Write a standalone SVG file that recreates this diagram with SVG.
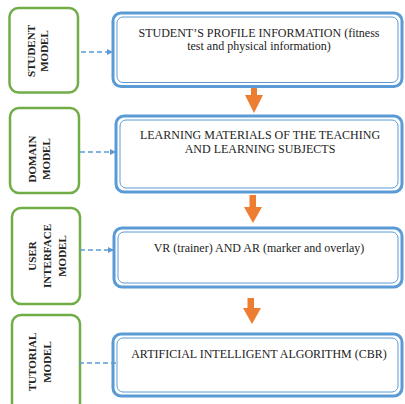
<svg xmlns="http://www.w3.org/2000/svg" width="405" height="404" viewBox="0 0 405 404">
<defs>
<style>
.g{fill:#fff;stroke:#70AD47;stroke-width:2.5}
.bo{fill:#fff;stroke:#5B9BD5;stroke-width:3}
.bi{fill:none;stroke:#5B9BD5;stroke-width:1}
.t{font-family:"Liberation Serif","Times New Roman",serif;font-size:12px;fill:#222;text-anchor:middle}
.l{font-family:"Liberation Serif","Times New Roman",serif;font-size:11px;font-weight:bold;fill:#222;text-anchor:middle}
.d{stroke:#5B9BD5;stroke-width:1.3;stroke-dasharray:5,3;fill:none}
.o{fill:#ED7D31}
</style>
<marker id="ah" markerWidth="6" markerHeight="6" refX="5" refY="3" orient="auto" markerUnits="userSpaceOnUse">
<path d="M0,0 L6,3 L0,6 Z" fill="#5B9BD5"/>
</marker>
</defs>
<rect width="405" height="404" fill="#fff"/>
<g id="student-model">
<rect class="g" x="9.5" y="8" width="68.5" height="84.5" rx="9"/>
<text class="l" transform="translate(35,51) rotate(-90)">STUDENT</text>
<text class="l" transform="translate(48,51) rotate(-90)">MODEL</text>
</g>
<g id="domain-model">
<rect class="g" x="10" y="108" width="69" height="85" rx="9"/>
<text class="l" transform="translate(36,159) rotate(-90)">DOMAIN</text>
<text class="l" transform="translate(50,159) rotate(-90)">MODEL</text>
</g>
<g id="user-interface-model">
<rect class="g" x="12" y="208" width="68" height="96" rx="9"/>
<text class="l" transform="translate(36,256) rotate(-90)">USER</text>
<text class="l" transform="translate(51,256) rotate(-90)">INTERFACE</text>
<text class="l" transform="translate(66,256) rotate(-90)">MODEL</text>
</g>
<g id="tutorial-model">
<rect class="g" x="12" y="315" width="68" height="100" rx="9"/>
<text class="l" transform="translate(36,362) rotate(-90)">TUTORIAL</text>
<text class="l" transform="translate(51,362) rotate(-90)">MODEL</text>
</g>
<g id="profile">
<rect class="bo" x="113" y="13" width="289" height="73.5" rx="8"/>
<rect class="bi" x="117" y="17" width="281" height="65.5" rx="6"/>
<text class="t" x="259" y="37">STUDENT’S PROFILE INFORMATION  (fitness</text>
<text class="t" x="259" y="50">test and physical information)</text>
</g>
<g id="materials">
<rect class="bo" x="116" y="116" width="286" height="76" rx="8"/>
<rect class="bi" x="120" y="120" width="278" height="68" rx="6"/>
<text class="t" x="260" y="139">LEARNING MATERIALS OF THE TEACHING</text>
<text class="t" x="260" y="153">AND LEARNING SUBJECTS</text>
</g>
<g id="vr-ar">
<rect class="bo" x="114" y="228" width="288" height="59" rx="8"/>
<rect class="bi" x="118" y="232" width="280" height="51" rx="6"/>
<text class="t" x="259" y="252">VR (trainer) AND AR (marker and overlay)</text>
</g>
<g id="ai">
<rect class="bo" x="113" y="334" width="289" height="62" rx="8"/>
<rect class="bi" x="117" y="338" width="281" height="54" rx="6"/>
<text class="t" x="259" y="358">ARTIFICIAL  INTELLIGENT  ALGORITHM  (CBR)</text>
</g>
<g id="connectors">
<line class="d" x1="81" y1="52" x2="112" y2="52" marker-end="url(#ah)"/>
<line class="d" x1="80" y1="152" x2="115" y2="152" marker-end="url(#ah)"/>
<line class="d" x1="80" y1="250" x2="113" y2="250" marker-end="url(#ah)"/>
<line class="d" x1="79" y1="363" x2="118" y2="363"/>
<path class="o" d="M251,88 H257 V95 H263 L254,113 L245,95 H251 Z"/>
<path class="o" d="M249.5,195 H256 V207 H262 L253,223 L244,207 H249.5 Z"/>
<path class="o" d="M247.5,298 H254 V308 H261 L252,324 L243,308 H247.5 Z"/>
</g>
</svg>
